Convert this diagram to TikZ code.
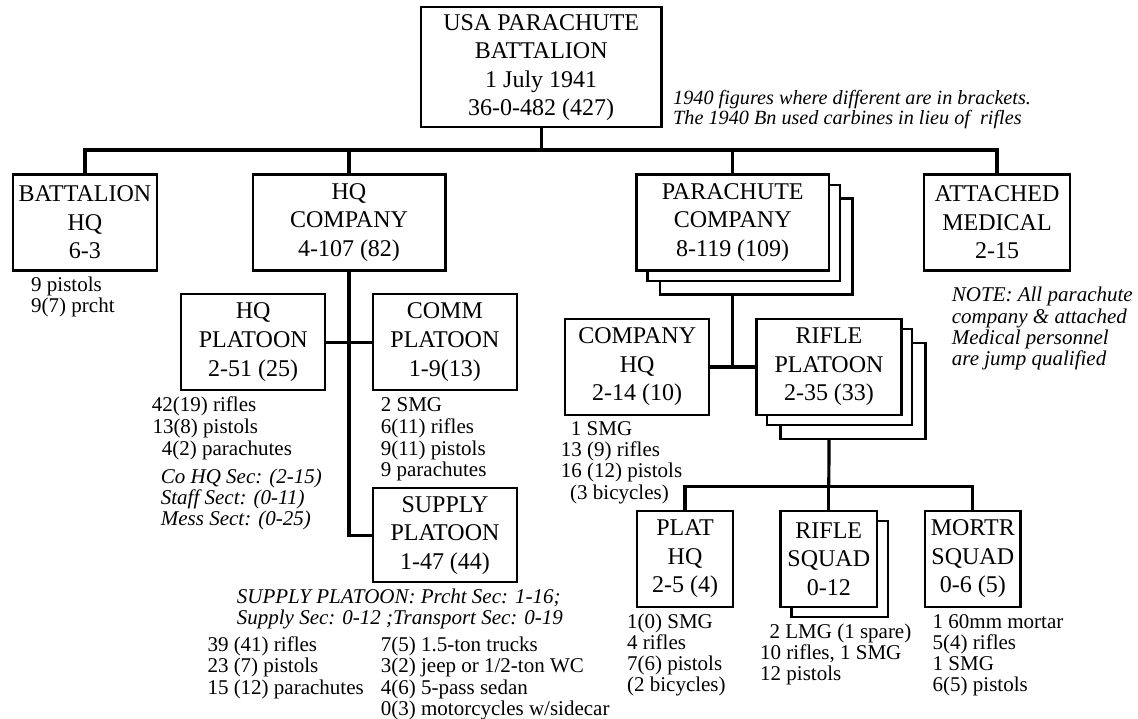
\documentclass[tikz,border=0pt]{standalone}
\usepackage{fontspec}
\setmainfont{Liberation Serif}
\begin{document}
\begin{tikzpicture}[x=1pt,y=-1pt,
  box/.style={draw, line width=2.3pt, fill=white, inner sep=0pt, outer sep=0pt, align=center,
    font=\fontsize{24}{28.6}\selectfont, minimum height=96pt, minimum width=144pt},
  shadow/.style={draw, line width=2.3pt, fill=white, inner sep=0pt, outer sep=0pt, minimum height=96pt, minimum width=144pt},
  conn/.style={line width=3.2pt, line join=miter},
  lbl/.style={anchor=base west, inner sep=0pt, font=\fontsize{21}{21.5}\selectfont},
  ilbl/.style={anchor=base west, inner sep=0pt, font=\fontsize{21}{21.5}\selectfont\itshape},
  nlbl/.style={anchor=base west, inner sep=0pt, font=\fontsize{20.2}{20}\selectfont\itshape}]
\useasboundingbox (0,0) rectangle (1138,719);

% ---- top level
\node[box, minimum width=240.4pt, minimum height=120.6pt] (top) at (541.2,67) {\rule{0pt}{17pt}USA PARACHUTE\\BATTALION\\1 July 1941\\36-0-482 (427)};
\node[nlbl] (note1a) at (673,104.5) {1940 figures where different are in brackets.};
\node[nlbl] (note1b) at (673,125) {The 1940 Bn used carbines in lieu of \ rifles};

% ---- second level
\node[box] (bhq) at (84.9,222.5) {BATTALION\\HQ\\6-3};
\node[box, minimum width=192.7pt] (hqco) at (349,222.5) {HQ\\COMPANY\\4-107 (82)};
\node[shadow, minimum width=192.7pt] (paraco3) at (756.2,246.5) {};
\node[shadow, minimum width=192.7pt] (paraco2) at (743.7,232.8) {};
\node[box, minimum width=192.7pt] (paraco) at (732.7,222.5) {PARACHUTE\\COMPANY\\8-119 (109)};
\node[box, minimum width=145.6pt] (med) at (997,222.5) {ATTACHED\\MEDICAL\\2-15};

\coordinate (bus) at (541.2,150);
\draw[conn] (top.south) -- (bus);
\draw[conn] (bhq.north) |- (bus);
\draw[conn] (med.north) |- (bus);
\draw[conn] (hqco.north) -- (hqco.north |- bus);
\draw[conn] (paraco.north) -- (paraco.north |- bus);

\node[lbl] (bhq1) at (31,291.3) {9 pistols};
\node[lbl] (bhq2) at (31,312.5) {9(7) prcht};

% ---- HQ company
\node[box] (hqpl) at (253.2,342.2) {HQ\\PLATOON\\2-51 (25)};
\node[box] (comm) at (444.9,342.2) {COMM\\PLATOON\\1-9(13)};
\node[box, minimum height=94pt] (supply) at (445,535.3) {SUPPLY\\PLATOON\\1-47 (44)};
\draw[conn] (hqco.south) |- (supply.west);
\draw[conn] (hqpl.east) -- (comm.west);

\node[lbl] (hp1) at (151.7,411.7) {42(19) rifles};
\node[lbl] (hp2) at (152.3,433.3) {13(8) pistols};
\node[lbl] (hp3) at (161.7,455) {4(2) parachutes};
\node[ilbl] (hp4) at (160.7,483.3) {Co HQ Sec: (2-15)};
\node[ilbl] (hp5) at (160.7,504.3) {Staff Sect: (0-11)};
\node[ilbl] (hp6) at (160.7,525.5) {Mess Sect: (0-25)};

\node[lbl] (cm1) at (380.7,411.7) {2 SMG};
\node[lbl] (cm2) at (380.7,433.3) {6(11) rifles};
\node[lbl] (cm3) at (380.7,455) {9(11) pistols};
\node[lbl] (cm4) at (380.7,476.3) {9 parachutes};

\node[ilbl] (sp1) at (236.7,603.3) {SUPPLY PLATOON: Prcht Sec: 1-16;};
\node[ilbl] (sp2) at (236.7,624.5) {Supply Sec: 0-12 ;Transport Sec: 0-19};
\node[lbl] (sp3) at (207.3,651.7) {39 (41) rifles};
\node[lbl] (sp4) at (207.3,672.8) {23 (7) pistols};
\node[lbl] (sp5) at (207.3,694) {15 (12) parachutes};
\node[lbl] (sp6) at (380.7,651.7) {7(5) 1.5-ton trucks};
\node[lbl] (sp7) at (380.7,672.8) {3(2) jeep or 1/2-ton WC};
\node[lbl] (sp8) at (380.7,694) {4(6) 5-pass sedan};
\node[lbl] (sp9) at (380.7,715) {0(3) motorcycles w/sidecar};

% ---- parachute company
\node[box] (cohq) at (637.2,367) {COMPANY\\HQ\\2-14 (10)};
\node[shadow, minimum width=145pt] (riflepl3) at (853,391) {};
\node[shadow, minimum width=145pt] (riflepl2) at (839.5,377) {};
\node[box, minimum width=145pt] (riflepl) at (829,367) {RIFLE\\PLATOON\\2-35 (33)};

\draw[conn] (paraco.south |- paraco3.south) -- (paraco.south |- cohq.east);
\draw[conn] (cohq.east) -- (riflepl.west);

\node[lbl] (ch1) at (570.7,435) {1 SMG};
\node[lbl] (ch2) at (560.7,456.3) {13 (9) rifles};
\node[lbl] (ch3) at (560.7,477.7) {16 (12) pistols};
\node[lbl] (ch4) at (570,499) {(3 bicycles)};

\node[ilbl] (nt1) at (951.7,301.7) {NOTE: All parachute};
\node[ilbl] (nt2) at (951.7,323.3) {company \& attached};
\node[ilbl] (nt3) at (951.7,344.5) {Medical personnel};
\node[ilbl] (nt4) at (951.7,365.5) {are jump qualified};

% ---- rifle platoon
\node[box, minimum width=96pt] (plathq) at (685,558.9) {PLAT\\HQ\\2-5 (4)};
\node[shadow, minimum width=96.4pt] (rsq2) at (839.8,568.9) {};
\node[box, minimum width=96.4pt] (rsq) at (828.8,558.9) {RIFLE\\SQUAD\\0-12};
\node[box, minimum width=95.6pt] (mortr) at (972.8,558.9) {MORTR\\SQUAD\\0-6 (5)};

\coordinate (sbus) at (828.8,486.7);
\draw[conn] (riflepl.south |- riflepl3.south) -- (sbus);
\draw[conn] (plathq.north) |- (sbus);
\draw[conn] (mortr.north) |- (sbus);
\draw[conn] (rsq.north) -- (sbus);

\node[lbl] (ph1) at (626.9,628.3) {1(0) SMG};
\node[lbl] (ph2) at (626.9,649.5) {4 rifles};
\node[lbl] (ph3) at (626.9,670.5) {7(6) pistols};
\node[lbl] (ph4) at (626.9,691.7) {(2 bicycles)};

\node[lbl] (rs1) at (769.4,638.3) {2 LMG (1 spare)};
\node[lbl] (rs2) at (760,659.5) {10 rifles, 1 SMG};
\node[lbl] (rs3) at (760,680.7) {12 pistols};

\node[lbl] (ms1) at (932.5,628.3) {1 60mm mortar};
\node[lbl] (ms2) at (932.5,649.5) {5(4) rifles};
\node[lbl] (ms3) at (932.5,670.5) {1 SMG};
\node[lbl] (ms4) at (932.5,691.7) {6(5) pistols};
\end{tikzpicture}
\end{document}
